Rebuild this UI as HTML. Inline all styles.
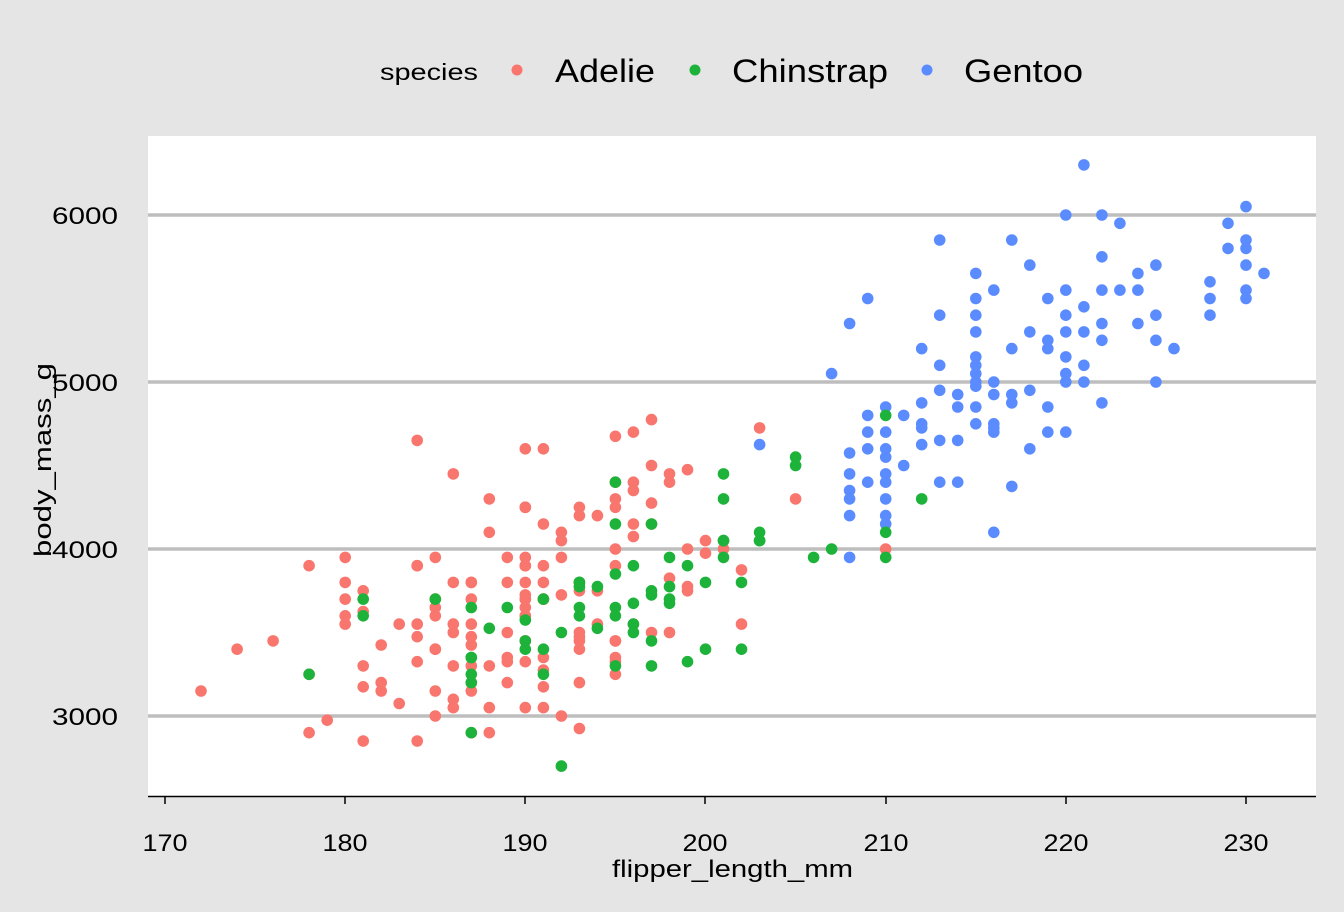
<!DOCTYPE html>
<html><head><meta charset="utf-8"><style>
html,body{margin:0;padding:0;background:#e5e5e5;}
svg{display:block;font-family:"Liberation Sans",Arial,sans-serif;}
</style></head><body>
<svg id="s" width="1344" height="912" xmlns="http://www.w3.org/2000/svg">
<rect width="1344" height="912" fill="#e5e5e5"/>
<rect x="148" y="136" width="1168" height="660" fill="#fff"/>
<g stroke="#bebebe" stroke-width="3.5">
<line x1="148" x2="1316" y1="215" y2="215"/>
<line x1="148" x2="1316" y1="382" y2="382"/>
<line x1="148" x2="1316" y1="549" y2="549"/>
<line x1="148" x2="1316" y1="716" y2="716"/>
</g>
<line x1="148" x2="1316" y1="796.5" y2="796.5" stroke="#000" stroke-width="1.5"/>
<g stroke="#000" stroke-width="1.5">
<line x1="165" x2="165" y1="796" y2="804"/>
<line x1="345" x2="345" y1="796" y2="804"/>
<line x1="525" x2="525" y1="796" y2="804"/>
<line x1="705" x2="705" y1="796" y2="804"/>
<line x1="886" x2="886" y1="796" y2="804"/>
<line x1="1066" x2="1066" y1="796" y2="804"/>
<line x1="1246" x2="1246" y1="796" y2="804"/>
</g>
<g font-size="24" fill="#000" text-anchor="middle" lengthAdjust="spacingAndGlyphs">
<text x="165" y="851" textLength="45" lengthAdjust="spacingAndGlyphs">170</text><text x="345" y="851" textLength="45" lengthAdjust="spacingAndGlyphs">180</text><text x="525" y="851" textLength="45" lengthAdjust="spacingAndGlyphs">190</text>
<text x="705" y="851" textLength="45" lengthAdjust="spacingAndGlyphs">200</text><text x="886" y="851" textLength="45" lengthAdjust="spacingAndGlyphs">210</text><text x="1066" y="851" textLength="45" lengthAdjust="spacingAndGlyphs">220</text><text x="1246" y="851" textLength="45" lengthAdjust="spacingAndGlyphs">230</text>
</g>
<g font-size="24" fill="#000">
<text x="52" y="224" textLength="66" lengthAdjust="spacingAndGlyphs">6000</text><text x="52" y="391" textLength="66" lengthAdjust="spacingAndGlyphs">5000</text><text x="52" y="558" textLength="66" lengthAdjust="spacingAndGlyphs">4000</text><text x="52" y="725" textLength="66" lengthAdjust="spacingAndGlyphs">3000</text>
</g>
<text x="612" y="877" font-size="24" textLength="241" lengthAdjust="spacingAndGlyphs">flipper_length_mm</text>
<text transform="translate(51,557) rotate(-90)" font-size="24" textLength="194" lengthAdjust="spacingAndGlyphs">body_mass_g</text>
<text x="380" y="80" font-size="23" textLength="98" lengthAdjust="spacingAndGlyphs">species</text>
<circle cx="517" cy="70" r="5.5" fill="#F8766D"/>
<text x="555" y="82" font-size="32" textLength="100" lengthAdjust="spacingAndGlyphs">Adelie</text>
<circle cx="695" cy="70" r="5.5" fill="#1DB33A"/>
<text x="732" y="82" font-size="32" textLength="156" lengthAdjust="spacingAndGlyphs">Chinstrap</text>
<circle cx="927" cy="70" r="5.5" fill="#5B8CFF"/>
<text x="964" y="82" font-size="32" textLength="119" lengthAdjust="spacingAndGlyphs">Gentoo</text>
<g id="pts"></g>
</svg>
<script>
var A=[181,3750,186,3800,195,3250,193,3450,190,3650,181,3625,195,4675,193,3475,190,4250,186,3300,180,3700,182,3200,191,3800,198,4400,185,3700,195,3450,197,4500,184,3325,194,4200,174,3400,180,3600,189,3800,185,3950,180,3800,187,3800,183,3550,187,3200,172,3150,180,3950,178,3250,178,3900,188,3300,184,3900,195,3325,196,4150,190,3950,180,3550,181,3300,184,4650,182,3150,195,3900,186,3100,196,4400,185,3000,190,4600,182,3425,179,2975,190,3450,191,4150,186,3500,188,4300,190,3450,200,4050,187,2900,191,3700,186,3550,193,3800,181,2850,194,3750,185,3150,195,4400,185,3600,192,4050,184,2850,192,3950,195,3350,188,4100,190,3050,198,4450,190,3600,190,3900,196,3550,197,4150,190,3700,195,4250,191,3700,184,3900,187,3550,195,4000,189,3200,196,4700,187,3800,193,4200,191,3350,194,3550,190,3800,189,3500,189,3950,190,3600,202,3550,205,4300,185,3400,186,4450,187,3300,190,3700,196,4350,178,2900,192,4100,192,3725,203,4725,183,3075,190,4250,193,2925,184,3550,199,3750,190,3900,181,3175,197,4775,198,3825,191,4600,193,3200,197,4275,191,3900,196,4075,188,2900,199,3775,189,3350,189,3325,187,3150,198,3500,176,3450,202,3875,186,3050,199,4000,191,3275,195,4300,191,3050,210,4000,190,3325,197,3500,193,3500,199,4475,187,3425,190,3900,191,3175,200,3975,185,3400,193,4250,193,3400,187,3475,188,3050,190,3725,192,3000,185,3650,190,4250,184,3475,195,3450,193,3750,187,3700,201,4000];
var C=[192,3500,196,3900,193,3650,188,3525,197,3725,198,3950,178,3250,197,3750,195,4150,198,3700,193,3800,194,3775,185,3700,201,4050,190,3575,201,4050,197,3300,181,3700,190,3450,195,4400,181,3600,191,3400,187,2900,193,3800,195,3300,197,4150,200,3400,200,3800,191,3700,205,4550,187,3200,201,4300,187,3350,203,4100,195,3600,199,3900,195,3850,210,4800,192,2700,205,4500,210,3950,187,3650,196,3550,196,3500,196,3675,201,4450,190,3400,212,4300,187,3250,198,3675,199,3325,201,3950,193,3600,203,4050,187,3350,197,3450,191,3250,203,4050,202,3800,194,3525,206,3950,189,3650,195,3650,207,4000,202,3400,193,3775,210,4100,198,3775];
var G=[203,4625,207,5050,208,5350,208,4575,208,4450,208,4350,208,4300,208,4200,208,3950,209,5500,209,4800,209,4700,209,4600,209,4400,210,4850,210,4700,210,4600,210,4550,210,4450,210,4400,210,4300,210,4200,210,4150,211,4800,211,4500,212,5200,212,4875,212,4750,212,4725,212,4625,213,5850,213,5400,213,5100,213,4950,213,4650,213,4400,214,4925,214,4850,214,4650,214,4400,215,5650,215,5500,215,5400,215,5300,215,5150,215,5100,215,5050,215,5000,215,4975,215,4850,215,4750,216,5550,216,5000,216,4925,216,4750,216,4725,216,4700,216,4100,217,5850,217,5200,217,4925,217,4875,217,4375,218,5700,218,5300,218,4950,218,4600,219,5500,219,5250,219,5200,219,4850,219,4700,220,6000,220,5550,220,5400,220,5300,220,5150,220,5050,220,5000,220,4700,221,6300,221,5450,221,5300,221,5100,221,5000,222,6000,222,5750,222,5550,222,5350,222,5250,222,4875,223,5950,223,5550,224,5650,224,5550,224,5350,225,5700,225,5400,225,5250,225,5000,226,5200,228,5600,228,5500,228,5400,229,5950,229,5800,230,6050,230,5850,230,5800,230,5700,230,5550,230,5500,231,5650];
var g=document.getElementById('pts'),h='';
function add(a,c){for(var i=0;i<a.length;i+=2){var x=165+(a[i]-170)*18.017,y=716-(a[i+1]-3000)*0.167;h+='<circle cx="'+x.toFixed(1)+'" cy="'+y.toFixed(1)+'" r="5.8" fill="'+c+'"/>';}}
add(A,'#F8766D');add(G,'#5B8CFF');add(C,'#1DB33A');
g.innerHTML=h;
</script>
</body></html>
